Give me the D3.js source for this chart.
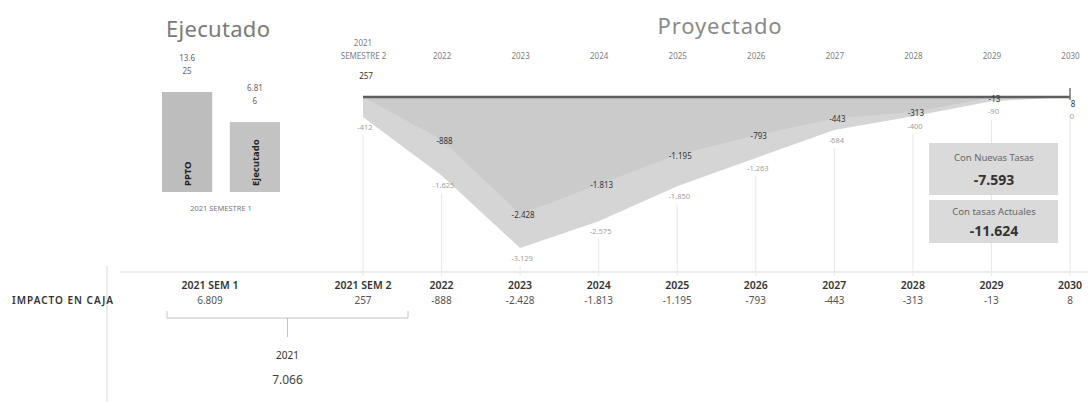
<!DOCTYPE html>
<html>
<head>
<meta charset="utf-8">
<script src="https://cdn.jsdelivr.net/npm/d3@7"></script>
<style>
  body { margin: 0; background: #fff; }
  svg { font-family: "Noto Sans", "Liberation Sans", sans-serif; }
</style>
</head>
<body>
<svg id="chart" width="1088" height="402"></svg>
<script>
// executed block (2021 semester 1)
var barNames  = ["PPTO", "Ejecutado"];
var barValues = [13625, 6816];
var barLabels = [["13.6", "25"], ["6.81", "6"]];

// projected block
var years = ["2021 SEM 2", "2022", "2023", "2024", "2025", "2026", "2027", "2028", "2029", "2030"];
var yearLabels = ["SEMESTRE 2", "2022", "2023", "2024", "2025", "2026", "2027", "2028", "2029", "2030"];
var nuevasTasas  = [257, -888, -2428, -1813, -1195, -793, -443, -313, -13, 8];
var tasasActuales = [-412, -1625, -3129, -2575, -1850, -1263, -684, -400, -90, 0];

// impact table
var tableHeads  = ["2021 SEM 1", "2021 SEM 2", "2022", "2023", "2024", "2025", "2026", "2027", "2028", "2029", "2030"];
var tableValues = ["6.809", "257", "-888", "-2.428", "-1.813", "-1.195", "-793", "-443", "-313", "-13", "8"];

var totalNuevas = "-7.593";
var totalActuales = "-11.624";
var total2021 = "7.066";

var svg = d3.select("#chart");
var fmt = function(v) {
  return d3.format(",")(v).replace(/,/g, ".").replace("−", "-");
};

// ---- left bars ----
var bx = d3.scaleBand().domain(barNames).range([162, 280]).paddingInner(0.26);
var by = d3.scaleLinear().domain([-9000, 13625]).range([192, 92]);

svg.append("text").attr("x", 166).attr("y", 37)
  .attr("font-size", 22).attr("letter-spacing", 0.3).attr("fill", "#7a7a7a").text("Ejecutado");

svg.selectAll(".bar").data(barNames).enter().append("rect")
  .attr("class", "bar")
  .attr("x", function(d) { return bx(d); })
  .attr("y", function(d, i) { return by(barValues[i]); })
  .attr("width", bx.bandwidth())
  .attr("height", function(d, i) { return by.range()[0] - by(barValues[i]); })
  .attr("fill", function(d, i) { return i == 0 ? "#bdbdbd" : "#c3c3c3"; });

svg.selectAll(".barname").data(barNames).enter().append("text")
  .attr("transform", function(d) {
    return "translate(" + (bx(d) + bx.bandwidth() / 2 + 4) + "," + (by.range()[0] - 6) + ") rotate(-90)";
  })
  .attr("font-size", 9.5).attr("font-weight", "bold").attr("fill", "#222")
  .text(function(d) { return d; });

barNames.forEach(function(d, i) {
  var t = svg.append("text").attr("text-anchor", "middle")
    .attr("font-size", 8).attr("fill", "#666");
  t.append("tspan").attr("x", bx(d) + bx.bandwidth() / 2).attr("y", by(barValues[i]) - 31).text(barLabels[i][0]);
  t.append("tspan").attr("x", bx(d) + bx.bandwidth() / 2).attr("y", by(barValues[i]) - 18).text(barLabels[i][1]);
});

svg.append("text").attr("x", 221).attr("y", 211).attr("text-anchor", "middle")
  .attr("font-size", 7.5).attr("fill", "#777").text("2021 SEMESTRE 1");

// ---- projected area ----
var x = d3.scalePoint().domain(years).range([363, 1070]);
var y = d3.scaleLinear().domain([0, -3129]).range([97, 248]);

svg.append("text").attr("x", 720).attr("y", 34).attr("text-anchor", "middle")
  .attr("font-size", 22).attr("letter-spacing", 0.9).attr("fill", "#8a8a8a").text("Proyectado");

// faint drop lines
svg.selectAll(".drop").data(years).enter().append("line")
  .attr("x1", function(d) { return x(d); }).attr("x2", function(d) { return x(d); })
  .attr("y1", function(d, i) { return y(tasasActuales[i]) + 18; }).attr("y2", 276)
  .attr("stroke", "#e8e8e8").attr("stroke-width", 1);

var area = d3.area()
  .x(function(d, i) { return x(years[i]); })
  .y0(y(0)).y1(function(d) { return y(Math.min(d, 0)); });

svg.append("path").datum(tasasActuales).attr("d", area).attr("fill", "#d5d5d5");
svg.append("path").datum(nuevasTasas).attr("d", area).attr("fill", "#cbcbcb");

// top axis with category labels
var axis = svg.append("g").attr("transform", "translate(0,62)")
  .call(d3.axisTop(x).tickSize(0).tickFormat(function(d, i) { return yearLabels[i]; }));
axis.select(".domain").remove();
axis.selectAll("text").attr("font-size", 8).attr("fill", "#808080")
  .attr("font-family", "Noto Sans, sans-serif");
svg.append("text").attr("x", x(years[0])).attr("y", 46).attr("text-anchor", "middle")
  .attr("font-size", 8).attr("fill", "#808080").text("2021");

// zero line
svg.append("line").attr("x1", x.range()[0]).attr("x2", x.range()[1])
  .attr("y1", y(0)).attr("y2", y(0)).attr("stroke", "#5e5e5e").attr("stroke-width", 2.5);
svg.append("line").attr("x1", x.range()[1]).attr("x2", x.range()[1])
  .attr("y1", y(0) - 9).attr("y2", y(0) + 3).attr("stroke", "#777").attr("stroke-width", 1.5);

// value labels
svg.selectAll(".lab1").data(nuevasTasas).enter().append("text")
  .attr("x", function(d, i) { return x(years[i]) + 3; })
  .attr("y", function(d, i) { return i == 0 ? y(0) - 18 : (i == 9 ? y(0) + 10 : y(d) + 4); })
  .attr("text-anchor", "middle").attr("font-size", 8).attr("fill", "#333")
  .text(function(d) { return fmt(d); });

svg.selectAll(".lab2").data(tasasActuales).enter().append("text")
  .attr("x", function(d, i) { return x(years[i]) + 2; })
  .attr("y", function(d, i) { return i == 9 ? y(d) + 22 : y(d) + 13; })
  .attr("text-anchor", "middle").attr("font-size", 7.5).attr("fill", "#a0a0a0")
  .text(function(d) { return fmt(d); });

// total boxes
var boxes = [["Con Nuevas Tasas", totalNuevas, 143, 52], ["Con tasas Actuales", totalActuales, 200, 43]];
boxes.forEach(function(b) {
  svg.append("rect").attr("x", 929).attr("y", b[2]).attr("width", 129).attr("height", b[3]).attr("fill", "#dadada");
  svg.append("text").attr("x", 994).attr("y", b[2] + (b[3] > 45 ? 18 : 15)).attr("text-anchor", "middle")
    .attr("font-size", 9.5).attr("fill", "#666").text(b[0]);
  svg.append("text").attr("x", 994).attr("y", b[2] + (b[3] > 45 ? 42 : 36)).attr("text-anchor", "middle")
    .attr("font-size", 14).attr("font-weight", "bold").attr("fill", "#333").text(b[1]);
});

// ---- impact table ----
svg.append("line").attr("x1", 120).attr("x2", 1088).attr("y1", 272).attr("y2", 272)
  .attr("stroke", "#ededed").attr("stroke-width", 2);
svg.append("line").attr("x1", 107).attr("x2", 107).attr("y1", 266).attr("y2", 402)
  .attr("stroke", "#d9d9d9").attr("stroke-width", 1);

var colX = function(i) { return i == 0 ? 210 : x(years[i - 1]); };

svg.selectAll(".thead").data(tableHeads).enter().append("text")
  .attr("x", function(d, i) { return colX(i); }).attr("y", 289)
  .attr("text-anchor", "middle").attr("font-size", 10.5).attr("font-weight", 600).attr("fill", "#333")
  .text(function(d) { return d; });

svg.selectAll(".tval").data(tableValues).enter().append("text")
  .attr("x", function(d, i) { return colX(i); }).attr("y", 304)
  .attr("text-anchor", "middle").attr("font-size", 10).attr("fill", "#555")
  .text(function(d) { return d; });

svg.append("text").attr("x", 12).attr("y", 304).attr("font-size", 10).attr("letter-spacing", 1)
  .attr("fill", "#333").attr("font-weight", 600).text("IMPACTO EN CAJA");

// 2021 bracket
var bl = 167, br = 408, bc = (bl + br) / 2;
svg.append("path")
  .attr("d", "M" + bl + ",311 V318 H" + br + " V311 M" + bc + ",318 V337")
  .attr("fill", "none").attr("stroke", "#c4c4c4").attr("stroke-width", 1);
svg.append("text").attr("x", bc).attr("y", 359).attr("text-anchor", "middle")
  .attr("font-size", 10).attr("fill", "#333").text("2021");
svg.append("text").attr("x", bc).attr("y", 384).attr("text-anchor", "middle")
  .attr("font-size", 12).attr("fill", "#444").text(total2021);
</script>
</body>
</html>
